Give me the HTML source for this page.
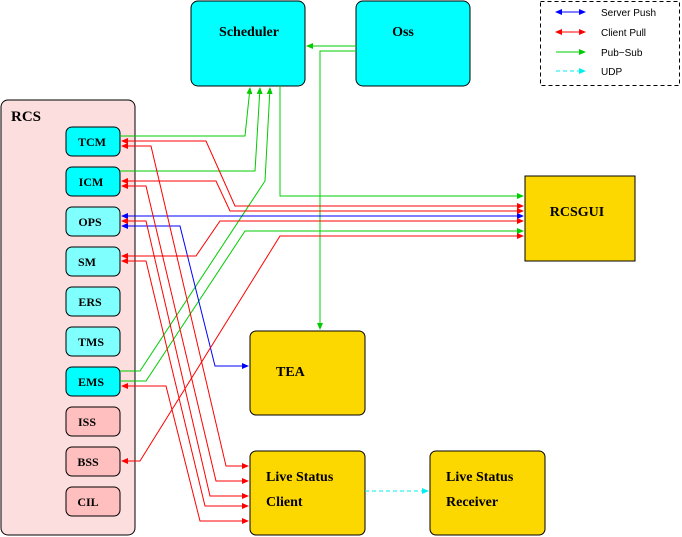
<!DOCTYPE html>
<html><head><style>body{margin:0;background:#fff}svg{display:block}
.b{font-family:"Liberation Serif",serif;font-weight:bold}
.l{font-family:"Liberation Sans",sans-serif;font-size:10px}</style></head><body>
<svg width="682" height="537" viewBox="0 0 682 537" xmlns="http://www.w3.org/2000/svg">
<defs>
<marker id="r" markerWidth="7" markerHeight="6" refX="6" refY="3" orient="auto-start-reverse" markerUnits="userSpaceOnUse"><path d="M0,0L7,3L0,6z" fill="#f00"/></marker>
<marker id="g" markerWidth="7" markerHeight="6" refX="6" refY="3" orient="auto-start-reverse" markerUnits="userSpaceOnUse"><path d="M0,0L7,3L0,6z" fill="#0c0"/></marker>
<marker id="u" markerWidth="7" markerHeight="6" refX="6" refY="3" orient="auto-start-reverse" markerUnits="userSpaceOnUse"><path d="M0,0L7,3L0,6z" fill="#00f"/></marker>
<marker id="c" markerWidth="7" markerHeight="6" refX="6" refY="3" orient="auto-start-reverse" markerUnits="userSpaceOnUse"><path d="M0,0L7,3L0,6z" fill="#0ee"/></marker>
</defs>
<rect x="1" y="100" width="134" height="435" rx="7" fill="#fddede" stroke="#000"/>
<text x="11" y="121" class="b" font-size="15">RCS</text>
<rect x="191" y="1" width="114" height="85" rx="7" fill="#0ff" stroke="#000"/>
<text x="249" y="36" class="b" font-size="14" text-anchor="middle">Scheduler</text>
<rect x="356" y="1" width="114" height="85" rx="7" fill="#0ff" stroke="#000"/>
<text x="403" y="36" class="b" font-size="14" text-anchor="middle">Oss</text>
<rect x="540.5" y="1.5" width="139" height="84" fill="#fff" stroke="#000" stroke-dasharray="4,3"/>
<rect x="525" y="176" width="110" height="85" fill="#fdd700" stroke="#000"/>
<text x="577" y="216" class="b" font-size="14" text-anchor="middle">RCSGUI</text>
<rect x="250" y="331" width="115" height="84" rx="6" fill="#fdd700" stroke="#000"/>
<text x="276" y="376" class="b" font-size="14">TEA</text>
<rect x="250" y="451" width="115" height="84" rx="6" fill="#fdd700" stroke="#000"/>
<text x="266" y="481" class="b" font-size="14">Live Status</text>
<text x="266" y="506" class="b" font-size="14">Client</text>
<rect x="430" y="451" width="115" height="84" rx="6" fill="#fdd700" stroke="#000"/>
<text x="446" y="481" class="b" font-size="14">Live Status</text>
<text x="446" y="506" class="b" font-size="14">Receiver</text>
<g class="b" font-size="12" text-anchor="middle">
<rect x="66" y="127" width="54" height="29" rx="6" fill="#0ff" stroke="#000"/><text x="92" y="146">TCM</text>
<rect x="66" y="167" width="54" height="29" rx="6" fill="#0ff" stroke="#000"/><text x="91" y="186">ICM</text>
<rect x="66" y="207" width="54" height="29" rx="6" fill="#80ffff" stroke="#000"/><text x="90" y="226">OPS</text>
<rect x="66" y="247" width="54" height="29" rx="6" fill="#80ffff" stroke="#000"/><text x="87" y="266">SM</text>
<rect x="66" y="287" width="54" height="29" rx="6" fill="#80ffff" stroke="#000"/><text x="90" y="306">ERS</text>
<rect x="66" y="327" width="54" height="29" rx="6" fill="#80ffff" stroke="#000"/><text x="91" y="346">TMS</text>
<rect x="66" y="367" width="54" height="29" rx="6" fill="#0ff" stroke="#000"/><text x="91" y="386">EMS</text>
<rect x="66" y="407" width="54" height="29" rx="6" fill="#ffbfbf" stroke="#000"/><text x="87" y="426">ISS</text>
<rect x="66" y="447" width="54" height="29" rx="6" fill="#ffbfbf" stroke="#000"/><text x="88" y="466">BSS</text>
<rect x="66" y="487" width="54" height="29" rx="6" fill="#ffbfbf" stroke="#000"/><text x="88" y="506">CIL</text>
</g>
<g fill="none">
<path d="M556,12H585" stroke="#00f" marker-end="url(#u)" marker-start="url(#u)"/>
<path d="M556,32H585" stroke="#f00" marker-end="url(#r)" marker-start="url(#r)"/>
<path d="M556,52H585" stroke="#0c0" marker-end="url(#g)"/>
<path d="M556,71H585" stroke="#0ee" stroke-dasharray="4,3" marker-end="url(#c)"/>
</g>
<g class="l"><text x="601" y="16">Server Push</text><text x="601" y="36">Client Pull</text><text x="601" y="56">Pub−Sub</text><text x="601" y="75">UDP</text></g>
<g fill="none" stroke="#0c0">
<path d="M120,136H245L250,88" marker-end="url(#g)"/>
<path d="M120,171H255L260,88" marker-end="url(#g)"/>
<path d="M120,371H140L265,181L270,88" marker-end="url(#g)"/>
<path d="M120,381H146L245,231H523" marker-end="url(#g)"/>
<path d="M280,86V196H523" marker-end="url(#g)"/>
<path d="M356,46H307" marker-end="url(#g)"/>
<path d="M356,51H320V329" marker-end="url(#g)"/>
</g>
<g fill="none" stroke="#00f" marker-start="url(#u)" marker-end="url(#u)">
<path d="M523,216H122"/>
<path d="M248,366H215L180,226H122"/>
</g>
<g fill="none" stroke="#f00" marker-start="url(#r)" marker-end="url(#r)">
<path d="M122,141H206L235,206H523"/>
<path d="M122,181H216L230,211H523"/>
<path d="M122,256H196L220,221H523"/>
<path d="M122,461H140L280,236H523"/>
<path d="M122,146H151L226,466H248"/>
<path d="M122,186H146L216,481H248"/>
<path d="M122,221H146L210,496H248"/>
<path d="M122,261H146L205,506H248"/>
<path d="M122,386H166L200,521H248"/>
</g>
<path d="M365,491H428" stroke="#0ee" stroke-dasharray="4,3" fill="none" marker-end="url(#c)"/>
</svg>
</body></html>
